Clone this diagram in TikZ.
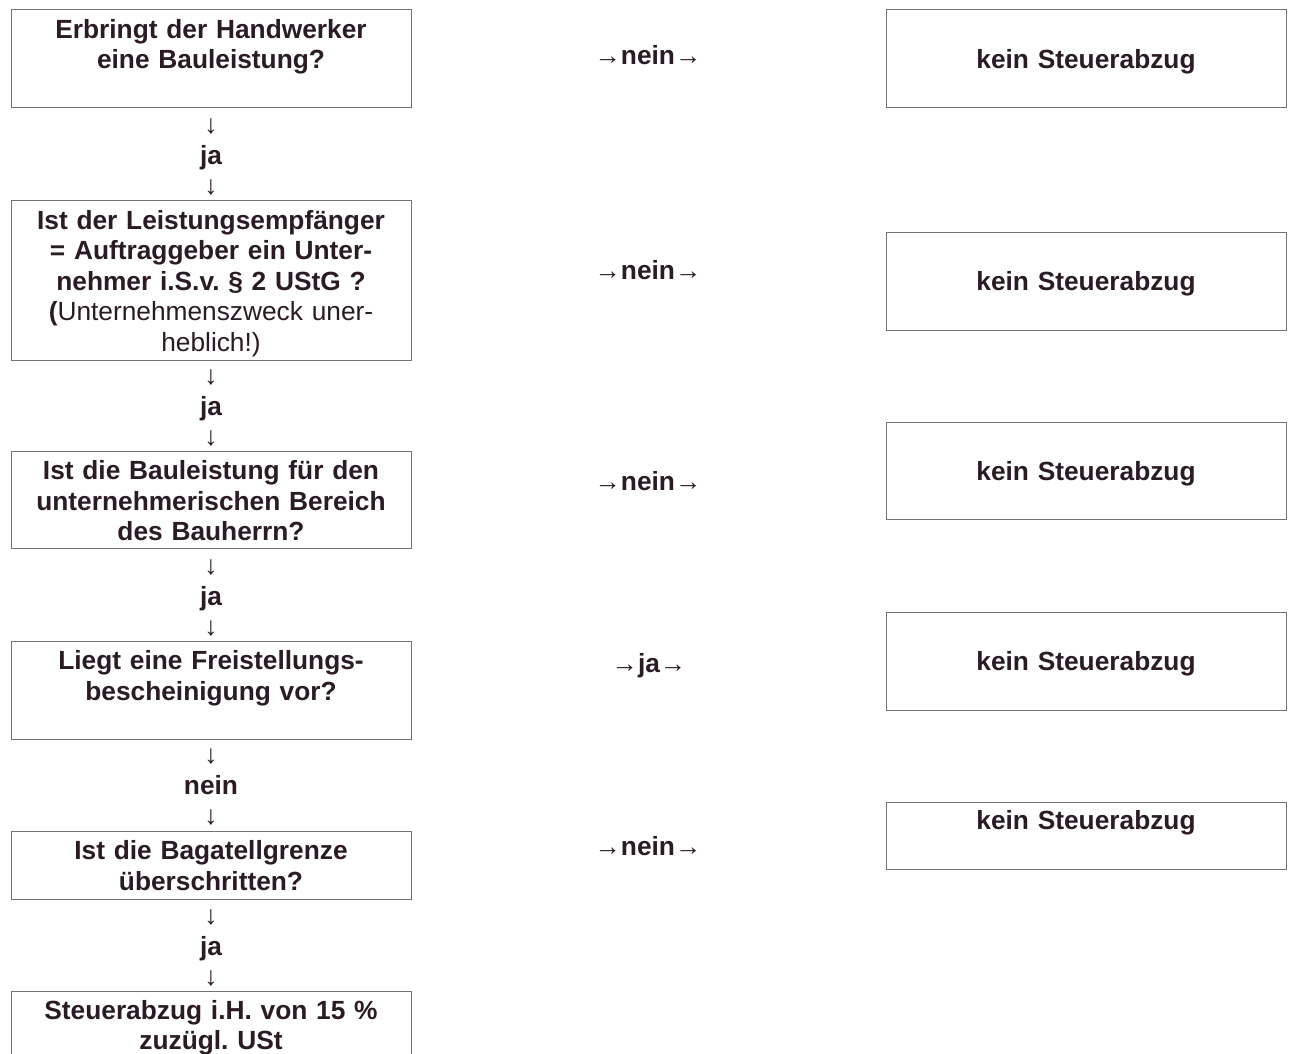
\documentclass[tikz,border=0pt]{standalone}
\usepackage{fontspec}
\setmainfont{Liberation Sans}
\frenchspacing
\definecolor{ink}{HTML}{2B1B24}
\definecolor{frame}{HTML}{77707A}
\newcommand{\ar}[1]{{\mdseries #1}}
\begin{document}
\begin{tikzpicture}[x=1pt,y=-1pt,
  box/.style={draw=frame,line width=1.3pt,inner sep=0pt,anchor=north west,minimum width=400pt},
  txt/.style={text=ink,font=\fontsize{26.3}{30.6}\selectfont\bfseries,text width=396pt,align=center,inner sep=0pt,anchor=base},
  lbl/.style={text=ink,font=\fontsize{26.3}{30.6}\selectfont\bfseries,inner sep=0pt,anchor=base}]
\useasboundingbox (0,0) rectangle (1293,1053);
\clip (0,0) rectangle (1293,1053);
\fill[white] (0,0) rectangle (1293,1053);
% left column boxes
\node[box,minimum height=98pt] (b1) at (11,9) {};
\node[box,minimum height=160pt] (b2) at (11,200) {};
\node[box,minimum height=97pt] (b3) at (11,451) {};
\node[box,minimum height=98pt] (b4) at (11,641) {};
\node[box,minimum height=68pt] (b5) at (11,831) {};
\node[box,minimum height=90pt] (b6) at (11,991) {};
% right column boxes
\node[box,minimum height=98pt] (r1) at (886,9) {};
\node[box,minimum height=98pt] (r2) at (886,232) {};
\node[box,minimum height=97pt] (r3) at (886,422) {};
\node[box,minimum height=98pt] (r4) at (886,612) {};
\node[box,minimum height=67pt] (r5) at (886,802) {};
% left texts
\node[txt] (t1) at (211,38) {Erbringt der Handwerker\\eine Bauleistung?};
\node[txt] (t2) at (211,229) {Ist der Leistungsempfänger\\= Auftraggeber ein Unter-\\nehmer i.S.v. § 2 UStG ?\\({\mdseries Unternehmenszweck uner-}\\{\mdseries heblich!)}};
\node[txt] (t3) at (211,479.5) {Ist die Bauleistung für den\\unternehmerischen Bereich\\des Bauherrn?};
\node[txt] (t4) at (211,669.5) {Liegt eine Freistellungs-\\bescheinigung vor?};
\node[txt] (t5) at (211,859.5) {Ist die Bagatellgrenze\\überschritten?};
\node[txt] (t6) at (211,1019) {Steuerabzug i.H. von 15 \%\\zuzügl. USt};
% right texts
\node[txt] (k1) at (1086,68) {kein Steuerabzug};
\node[txt] (k2) at (1086,290.5) {kein Steuerabzug};
\node[txt] (k3) at (1086,480.5) {kein Steuerabzug};
\node[txt] (k4) at (1086,670.5) {kein Steuerabzug};
\node[txt] (k5) at (1086,829) {kein Steuerabzug};
% vertical connectors (text arrows)
\node[txt] (v1) at (211,133.4) {\ar{↓}\\ja\\\ar{↓}};
\node[txt] (v2) at (211,384.4) {\ar{↓}\\ja\\\ar{↓}};
\node[txt] (v3) at (211,574.4) {\ar{↓}\\ja\\\ar{↓}};
\node[txt] (v4) at (211,763.4) {\ar{↓}\\nein\\\ar{↓}};
\node[txt] (v5) at (211,924.4) {\ar{↓}\\ja\\\ar{↓}};
% horizontal connectors (text arrows)
\node[lbl] (h1) at (648,64) {\ar{→}nein\ar{→}};
\node[lbl] (h2) at (648,279) {\ar{→}nein\ar{→}};
\node[lbl] (h3) at (648,490) {\ar{→}nein\ar{→}};
\node[lbl] (h4) at (649,672) {\ar{→}ja\ar{→}};
\node[lbl] (h5) at (648,855) {\ar{→}nein\ar{→}};
\end{tikzpicture}
\end{document}
